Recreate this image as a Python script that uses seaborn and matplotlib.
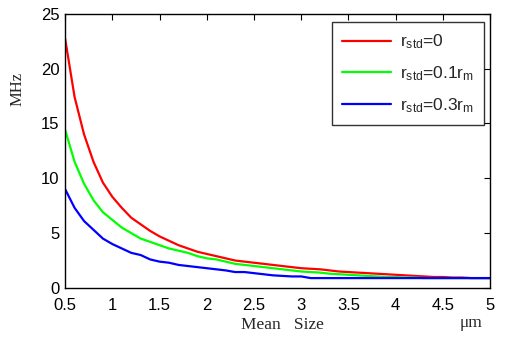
import matplotlib
matplotlib.use("Agg")
import matplotlib.pyplot as plt
import seaborn as sns
import pandas as pd
import numpy as np

# Mean size (um), 0.5 .. 5.0 in steps of 0.1
sizes = [round(0.5 + 0.1 * i, 1) for i in range(46)]

# Values (MHz)
r_std_0 = [22.7, 17.4, 14.0, 11.5, 9.6, 8.3, 7.3, 6.4, 5.8, 5.2,
           4.7, 4.3, 3.9, 3.6, 3.3, 3.1, 2.9, 2.7, 2.5, 2.4,
           2.3, 2.2, 2.1, 2.0, 1.9, 1.8, 1.75, 1.7, 1.6, 1.5,
           1.45, 1.4, 1.35, 1.3, 1.25, 1.2, 1.15, 1.1, 1.05, 1.0,
           1.0, 0.95, 0.95, 0.9, 0.9, 0.9]
r_std_01 = [14.4, 11.5, 9.5, 8.0, 6.9, 6.2, 5.5, 5.0, 4.5, 4.2,
            3.9, 3.6, 3.4, 3.2, 2.9, 2.7, 2.6, 2.4, 2.2, 2.1,
            2.0, 1.9, 1.8, 1.7, 1.6, 1.5, 1.45, 1.4, 1.3, 1.25,
            1.2, 1.15, 1.1, 1.05, 1.0, 1.0, 0.95, 0.95, 0.9, 0.9,
            0.9, 0.9, 0.9, 0.9, 0.9, 0.9]
r_std_03 = [9.0, 7.3, 6.1, 5.3, 4.5, 4.0, 3.6, 3.2, 3.0, 2.6,
            2.4, 2.3, 2.1, 2.0, 1.9, 1.8, 1.7, 1.6, 1.45, 1.45,
            1.35, 1.25, 1.15, 1.1, 1.05, 1.05, 0.9, 0.9, 0.9, 0.9,
            0.9, 0.9, 0.9, 0.9, 0.9, 0.9, 0.9, 0.9, 0.9, 0.9,
            0.9, 0.9, 0.9, 0.9, 0.9, 0.9]

labels = [r"$\mathregular{r_{std}}$=0",
          r"$\mathregular{r_{std}}$=0.1$\mathregular{r_{m}}$",
          r"$\mathregular{r_{std}}$=0.3$\mathregular{r_{m}}$"]
colors = ["#ff0000", "#00ff00", "#0000ff"]

df = pd.concat([
    pd.DataFrame({"size": sizes, "freq": vals, "case": lab})
    for vals, lab in zip([r_std_0, r_std_01, r_std_03], labels)
])

sns.set_style("white")
plt.rcParams["font.family"] = ["Liberation Sans", "DejaVu Sans"]
plt.rcParams["mathtext.fontset"] = "custom"
plt.rcParams["mathtext.rm"] = "Liberation Sans"

fig = plt.figure(figsize=(5.09, 3.42), dpi=100)
ax = fig.add_axes([0.128, 0.158, 0.835, 0.802])

sns.lineplot(data=df, x="size", y="freq", hue="case", palette=colors,
             linewidth=1.6, ax=ax)

ax.set_xlim(0.5, 5)
ax.set_ylim(0, 25)
ax.set_xticks(np.arange(0.5, 5.01, 0.5))
ax.set_xticklabels(["0.5", "1", "1.5", "2", "2.5", "3", "3.5", "4", "4.5", "5"])
ax.set_yticks([0, 5, 10, 15, 20, 25])
ax.tick_params(direction="in", length=4, width=0.8, top=True, right=True,
               labelsize=12, colors="black")
ax.tick_params(axis="x", pad=7)
ax.tick_params(axis="y", pad=4)
for sp in ax.spines.values():
    sp.set_color("black")
    sp.set_linewidth(1.0)

ax.set_xlabel("")
ax.set_ylabel("")
fig.text(0.035, 0.74, "MHz", rotation=90, family="Liberation Serif",
         fontsize=12, ha="center", va="center")
fig.text(0.555, 0.05, "Mean   Size", family="Liberation Serif",
         fontsize=12.5, ha="center", va="center")
fig.text(0.926, 0.056, "\u03bcm", family="Liberation Serif",
         fontsize=12.5, ha="center", va="center")

leg = ax.legend(loc="upper right", bbox_to_anchor=(0.986, 0.969),
                borderaxespad=0, fontsize=12.5, handlelength=2.8,
                labelspacing=0.75, frameon=True, fancybox=False,
                borderpad=0.6, handletextpad=0.5)
leg.get_frame().set_edgecolor("black")
leg.get_frame().set_linewidth(1.0)

fig.savefig("out.png", dpi=100)
